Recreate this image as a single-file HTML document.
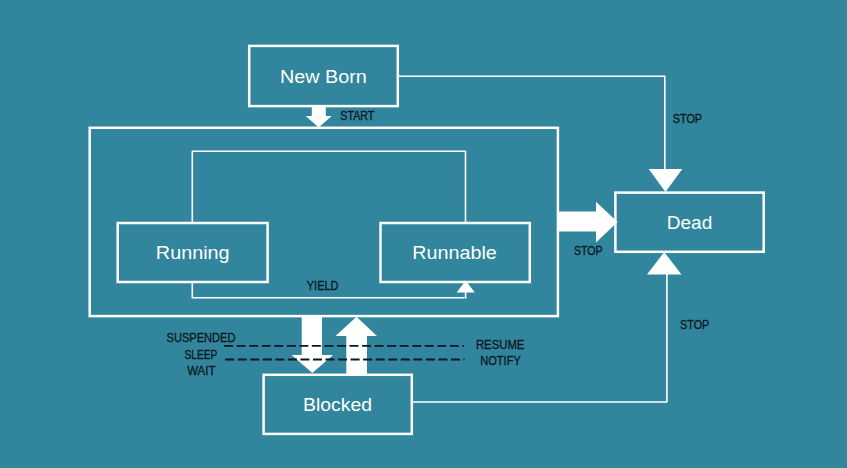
<!DOCTYPE html>
<html><head><meta charset="utf-8">
<style>
html,body{margin:0;padding:0;width:847px;height:468px;overflow:hidden;background:#31859C;}
svg{position:absolute;left:0;top:0;display:block;}
.w{fill:none;stroke:#fff;}
.big{font-family:"Liberation Sans",sans-serif;fill:#fff;font-size:18px;}
.sm{font-family:"Liberation Sans",sans-serif;fill:#0d1722;stroke:#0d1722;stroke-width:0.3px;font-size:12px;}
</style></head>
<body>
<svg width="847" height="468" viewBox="0 0 847 468">
  <!-- boxes -->
  <rect class="w" stroke-width="2.5" x="249.2" y="45.9" width="148.6" height="60.2"/>
  <rect class="w" stroke-width="2.5" x="89.7" y="127.8" width="468.2" height="188.3"/>
  <rect class="w" stroke-width="2.5" x="117.7" y="223" width="149.9" height="59"/>
  <rect class="w" stroke-width="2.5" x="380.5" y="223" width="149.3" height="59"/>
  <rect class="w" stroke-width="2.5" x="615.4" y="192.6" width="148.3" height="59.2"/>
  <rect class="w" stroke-width="2.5" x="263.6" y="374.8" width="148.2" height="59.1"/>
  <!-- loop -->
  <path class="w" stroke-width="1.6" stroke-linejoin="round" d="M192.3,222 V151.2 H465.5 V222"/>
  <path class="w" stroke-width="1.6" stroke-linejoin="round" d="M192.3,283 V297.8 H464.5"/><path class="w" stroke-width="1.6" d="M465.6,291 V298.6"/>
  <polygon fill="#fff" points="456.6,292.4 474.8,292.4 465.7,280.5"/>
  <!-- connectors -->
  <path class="w" stroke-width="1.6" stroke-linejoin="round" d="M398,76.2 H664.8 V170"/>
  <path class="w" stroke-width="1.6" stroke-linejoin="round" d="M412,402 H666.9 V274"/>
  <polygon fill="#fff" points="648.7,169 682.3,169 665.5,192"/>
  <polygon fill="#fff" points="647,274.6 681.5,274.6 664.2,252"/>
  <!-- START arrow -->
  <polygon fill="#fff" points="311.8,106 325.8,106 325.8,116 331.7,116 318.7,127.5 305.6,116 311.8,116"/>
  <!-- big right arrow -->
  <polygon fill="#fff" points="558,211.4 596,211.4 596,201.7 617.5,222 596,242.5 596,231.6 558,231.6"/>
  <!-- down arrow -->
  <polygon fill="#fff" points="301.7,316 322,316 322,355 333,355 312.3,373 291.7,355 301.7,355"/>
  <!-- up arrow -->
  <polygon fill="#fff" points="346.3,375 367,375 367,336 377,336 356.5,316.7 335.5,336 346.3,336"/>
  <!-- dashed -->
  <path fill="none" stroke="#0d1722" stroke-width="1.8" stroke-dasharray="9 3.54" d="M224.1,345.8 H464"/>
  <path fill="none" stroke="#0d1722" stroke-width="1.8" stroke-dasharray="9 3.54" d="M225.2,359.5 H464.5"/>
  <!-- big text -->
  <text class="big" x="323.4" y="83" text-anchor="middle" textLength="86.8" lengthAdjust="spacingAndGlyphs">New Born</text>
  <text class="big" x="192.75" y="258.7" text-anchor="middle" textLength="73.8" lengthAdjust="spacingAndGlyphs">Running</text>
  <text class="big" x="454.5" y="259" text-anchor="middle" textLength="84.5" lengthAdjust="spacingAndGlyphs">Runnable</text>
  <text class="big" x="689.5" y="229" text-anchor="middle" textLength="45.5" lengthAdjust="spacingAndGlyphs">Dead</text>
  <text class="big" x="337.5" y="411" text-anchor="middle" textLength="69" lengthAdjust="spacingAndGlyphs">Blocked</text>
  <!-- small text -->
  <text class="sm" x="357.3" y="119.5" text-anchor="middle" textLength="34" lengthAdjust="spacingAndGlyphs">START</text>
  <text class="sm" x="687.4" y="122.5" text-anchor="middle" textLength="29.5" lengthAdjust="spacingAndGlyphs">STOP</text>
  <text class="sm" x="588.3" y="254.7" text-anchor="middle" textLength="28.8" lengthAdjust="spacingAndGlyphs">STOP</text>
  <text class="sm" x="694.7" y="329.2" text-anchor="middle" textLength="29.3" lengthAdjust="spacingAndGlyphs">STOP</text>
  <text class="sm" x="322.6" y="290" text-anchor="middle" textLength="31.5" lengthAdjust="spacingAndGlyphs">YIELD</text>
  <text class="sm" x="201" y="342" text-anchor="middle" textLength="69" lengthAdjust="spacingAndGlyphs">SUSPENDED</text>
  <text class="sm" x="200.9" y="358.5" text-anchor="middle" textLength="32.7" lengthAdjust="spacingAndGlyphs">SLEEP</text>
  <text class="sm" x="201.3" y="375" text-anchor="middle" textLength="28.2" lengthAdjust="spacingAndGlyphs">WAIT</text>
  <text class="sm" x="500.2" y="348.5" text-anchor="middle" textLength="48.5" lengthAdjust="spacingAndGlyphs">RESUME</text>
  <text class="sm" x="500.5" y="365" text-anchor="middle" textLength="40.5" lengthAdjust="spacingAndGlyphs">NOTIFY</text>
</svg>
</body></html>
